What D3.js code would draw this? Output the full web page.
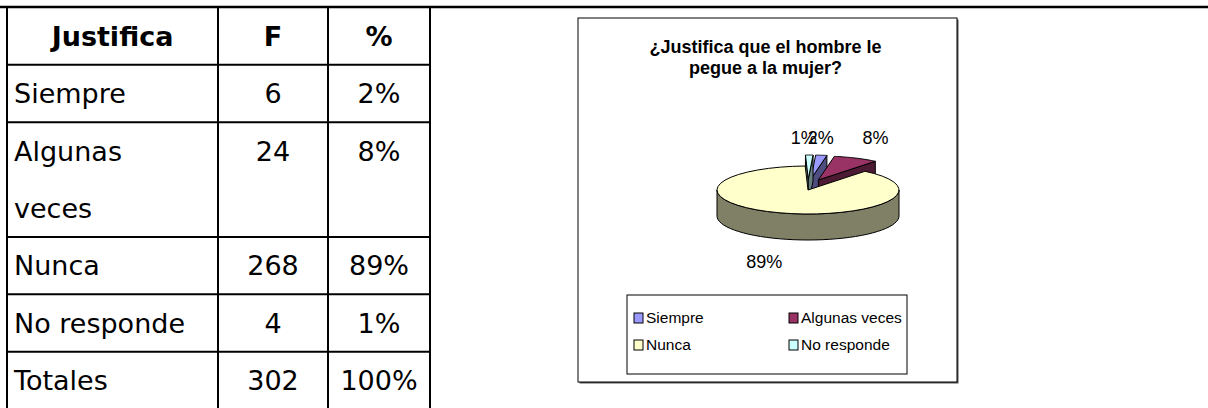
<!DOCTYPE html>
<html>
  <head>
    <meta charset="utf-8">
    <script src="https://d3js.org/d3.v7.min.js"></script>
    <title>Justifica</title>
    <style>
      body { margin: 0px; background: #fff; }
      .cell { font-family: 'DejaVu Sans', Verdana, sans-serif; font-size: 27px; fill: #000; }
      .cell.head { font-weight: bold; }
      .chart-text { font-family: 'Liberation Sans', Arial, sans-serif; fill: #000; }
    </style>
  </head>
  <body>
    <svg width="1208" height="408"></svg>
    <script>
      const headers = ['Justifica', 'F', '%'];
      const categories = ['Siempre', 'Algunas veces', 'Nunca', 'No responde'];
      const freq = [6, 24, 268, 4];
      const pct = ['2%', '8%', '89%', '1%'];
      const totals = ['Totales', '302', '100%'];
      const title = ['¿Justifica que el hombre le', 'pegue a la mujer?'];
      const colors = ['#9999ff', '#993366', '#ffffcc', '#ccffff'];
      const sideColors = ['#4d4d80', '#4d1a33', '#808066', '#668080'];

      const svg = d3.select('svg');
      const width = +svg.attr('width');

      // ---- table ----
      const colX = [7, 218, 328, 430];
      // row units: header, Siempre, Algunas veces (2 lines), Nunca, No responde, Totales
      const rowUnits = [1, 1, 2, 1, 1, 1];
      const yUnit = d3.scaleLinear().domain([0, 7]).range([7.5, 409]);
      const rowStart = d3.cumsum([0].concat(rowUnits));

      const tg = svg.append('g');
      tg.append('line')
        .attr('x1', 0).attr('x2', width)
        .attr('y1', 7).attr('y2', 7)
        .attr('stroke', '#000').attr('stroke-width', 2.5);
      tg.selectAll('.hline').data(rowStart.slice(1, 6)).enter().append('line')
        .attr('x1', colX[0] - 1).attr('x2', colX[3] + 1)
        .attr('y1', d => yUnit(d)).attr('y2', d => yUnit(d))
        .attr('stroke', '#000').attr('stroke-width', 2);
      tg.selectAll('.vline').data(colX).enter().append('line')
        .attr('x1', d => d).attr('x2', d => d)
        .attr('y1', 6).attr('y2', 408)
        .attr('stroke', '#000').attr('stroke-width', 2);

      const colCenter = i => (colX[i] + colX[i + 1]) / 2;
      const rows = [headers].concat(categories.map((c, i) => [c, String(freq[i]), pct[i]]), [totals]);

      rows.forEach((r, ri) => {
        const u0 = rowStart[ri];
        r.forEach((txt, ci) => {
          const t = tg.append('text')
            .attr('class', ri === 0 ? 'cell head' : 'cell')
            .attr('text-anchor', (ci === 0 && ri > 0) ? 'start' : 'middle')
            .attr('x', (ci === 0 && ri > 0) ? colX[0] + 7 : colCenter(ci));
          // wrap into the row's lines when the row spans more than one line
          const words = (ci === 0 && rowUnits[ri] > 1) ? txt.split(' ') : [txt];
          words.forEach((w, wi) => {
            t.append('tspan')
              .attr('x', t.attr('x'))
              .attr('y', yUnit(u0 + wi + 0.5))
              .attr('dy', '0.36em')
              .text(w);
          });
        });
      });

      // ---- chart box ----
      const box = { x: 578, y: 18, w: 379, h: 364 };
      svg.append('rect')
        .attr('x', box.x + 1.5).attr('y', box.y + 1.5)
        .attr('width', box.w).attr('height', box.h)
        .attr('fill', '#555');
      svg.append('rect')
        .attr('x', box.x).attr('y', box.y)
        .attr('width', box.w).attr('height', box.h)
        .attr('fill', '#fff').attr('stroke', '#000').attr('stroke-width', 1);

      svg.append('text')
        .attr('class', 'chart-text')
        .attr('text-anchor', 'middle')
        .style('font-weight', 'bold')
        .style('font-size', '18px')
        .selectAll('tspan').data(title).enter().append('tspan')
          .attr('x', box.x + box.w / 2 - 2)
          .attr('y', (d, i) => 53 + i * 21)
          .text(d => d);

      // ---- 3d pie ----
      const cx = 808, cy = 190, rx = 91, ry = 24, depth = 26;
      const rot = 3 * Math.PI / 180;
      const pie = d3.pie().sort(null).value(d => d)
        .startAngle(rot).endAngle(rot + 2 * Math.PI);
      const arcs = pie(freq).map((d, i) => Object.assign(d, { i: i }));

      const pt = a => [Math.sin(a) * rx, -Math.cos(a) * ry];
      const line = d3.line();
      const maxF = d3.max(freq);

      arcs.forEach(d => {
        d.mid = (d.startAngle + d.endAngle) / 2;
        d.exploded = d.value !== maxF;
        d.ox = d.exploded ? 25 * Math.sin(d.mid) : 0;
        d.oy = d.exploded ? -11 * Math.cos(d.mid) : 0;
      });

      const pieG = svg.append('g').attr('transform', `translate(${cx},${cy})`);
      const order = arcs.filter(d => d.exploded).concat(arcs.filter(d => !d.exploded));

      const sample = (a0, a1) => d3.range(0, 41).map(j => a0 + (a1 - a0) * j / 40);

      order.forEach(d => {
        const g = pieG.append('g').attr('transform', `translate(${d.ox},${d.oy})`);
        const side = sideColors[d.i];
        const wall = a => {
          const p = pt(a);
          return line([[0, 0], p, [p[0], p[1] + depth], [0, depth]]) + 'Z';
        };
        if (Math.sin(d.startAngle) < 0) {
          g.append('path').attr('d', wall(d.startAngle))
            .attr('fill', side).attr('stroke', '#000').attr('stroke-width', 1);
        }
        if (Math.sin(d.endAngle) > 0) {
          g.append('path').attr('d', wall(d.endAngle))
            .attr('fill', side).attr('stroke', '#000').attr('stroke-width', 1);
        }
        // front outer wall
        const lo = Math.max(d.startAngle, Math.PI / 2);
        const hi = Math.min(d.endAngle, 3 * Math.PI / 2);
        if (hi > lo) {
          const topPts = sample(lo, hi).map(a => pt(a));
          const botPts = topPts.slice().reverse().map(p => [p[0], p[1] + depth]);
          g.append('path').attr('d', line(topPts.concat(botPts)) + 'Z')
            .attr('fill', side).attr('stroke', '#000').attr('stroke-width', 1);
        }
        // top face
        const facePts = [[0, 0]].concat(sample(d.startAngle, d.endAngle).map(a => pt(a)));
        g.append('path').attr('d', line(facePts) + 'Z')
          .attr('fill', colors[d.i]).attr('stroke', '#000').attr('stroke-width', 1)
          .attr('stroke-linejoin', 'round');
      });

      // labels: back slices get a row above the pie, front ones sit below it
      pieG.selectAll('.lbl').data(arcs).enter().append('text')
        .attr('class', 'chart-text')
        .attr('text-anchor', 'middle')
        .style('font-size', '18px')
        .attr('x', d => d.ox + Math.sin(d.mid) * 138 - (d.exploded && d.value < 10 ? 6 : 0))
        .attr('y', d => Math.cos(d.mid) > 0 ? -(ry + 28) : -Math.cos(d.mid) * 42 + depth + 6)
        .attr('dy', '0.35em')
        .text(d => pct[d.i]);

      // ---- legend ----
      const lg = { x: 627, y: 295, w: 280, h: 79 };
      svg.append('rect')
        .attr('x', lg.x).attr('y', lg.y).attr('width', lg.w).attr('height', lg.h)
        .attr('fill', '#fff').attr('stroke', '#000').attr('stroke-width', 1);
      const legX = d3.scalePoint().domain([0, 1]).range([lg.x + 7, lg.x + 162]);
      const legY = d3.scalePoint().domain([0, 1]).range([lg.y + 23, lg.y + 50]);
      const items = svg.selectAll('.leg').data(categories).enter().append('g')
        .attr('transform', (d, i) => `translate(${legX(i % 2)},${legY(Math.floor(i / 2))})`);
      items.append('rect')
        .attr('x', 0).attr('y', -5).attr('width', 9).attr('height', 10)
        .attr('fill', (d, i) => colors[i]).attr('stroke', '#000').attr('stroke-width', 1);
      items.append('text')
        .attr('class', 'chart-text')
        .style('font-size', '15.5px')
        .attr('x', 12).attr('dy', '0.35em')
        .text(d => d);
    </script>
  </body>
</html>
